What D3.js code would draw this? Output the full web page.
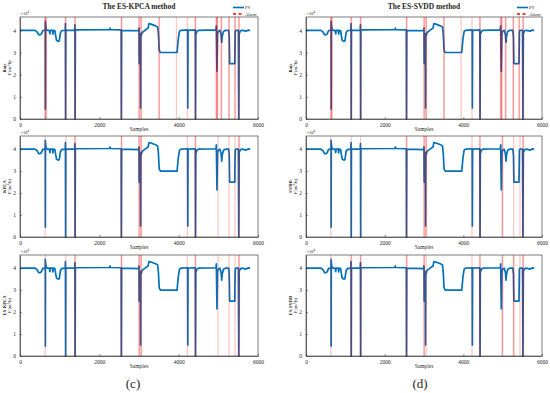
<!DOCTYPE html>
<html>
<head>
<meta charset="utf-8">
<style>
body { margin: 0; background: #fff; }
text { font-family: "Liberation Serif", "Times New Roman", serif; fill: #262626; }
</style>
<script src="https://cdn.jsdelivr.net/npm/d3@7/dist/d3.min.js"></script>
</head>
<body>
<script>
// PV flow rate (key points)
var pvSamples = [0, 380, 430, 470, 500, 540, 575, 620, 635, 638, 640, 643, 648, 660, 690,
  740, 755, 765, 820, 830, 840, 880, 900, 920, 960, 990, 1000, 1020, 1060,
  1140, 1145, 1150, 1155, 1380, 1385, 1390, 1395, 2260, 2270, 2280, 2550, 2555, 2562,
  2990, 3000, 3005, 3010, 3035, 3040, 3045, 3080, 3150, 3230, 3250, 3300, 3420, 3470,
  3490, 3510, 3540, 3960, 3990, 4020, 4060, 4225, 4230, 4236, 4420, 4425, 4432, 4460,
  4500, 4940, 4950, 4965, 4980, 5000, 5040, 5070, 5085, 5100, 5130, 5180, 5260, 5275,
  5285, 5415, 5425, 5440, 5505, 5515, 5525, 5560, 5600, 5700, 5750, 5800];
var pvValues = [40000, 40000, 39300, 38000, 37900, 38400, 39900, 40000, 40000, 44000, 4500, 43000, 42000, 40500, 40000,
  40000, 38400, 40000, 40000, 38300, 40000, 39800, 37500, 35500, 35000, 35200, 36500, 39000, 39900,
  40000, 43000, 0, 40000, 40000, 42500, 0, 40200, 40300, 41000, 40300, 40200, 0, 40000,
  39800, 41000, 25000, 38000, 38500, 5000, 37000, 39000, 40000, 41000, 43000, 42800, 42000, 41500,
  38000, 31000, 30000, 30000, 36000, 39500, 40000, 40200, 5000, 40000, 40200, 0, 38000, 39500,
  40000, 40200, 42000, 21500, 38500, 39500, 40000, 38000, 34500, 37500, 39500, 40000, 40000, 37000,
  25000, 25000, 39500, 40000, 40000, 0, 38500, 39800, 40000, 39600, 40100, 40000];

var xTicks = [0, 2000, 4000, 6000];
var yTicks = [0, 10000, 20000, 30000, 40000];

var methodTitles = ["The ES-KPCA method", "The ES-SVDD method"];
var rowNames = [["Rate", "KPCA", "ES-KPCA"], ["Rate", "SVDD", "ES-SVDD"]];
var panelLetters = ["(c)", "(d)"];

// alarm samples: strong (red) and faint (pink)
var rateAlarms = [646, 1150, 1388, 2559, 3004, 3055, 3508, 4422, 4951, 4976, 5077, 5270, 5421, 5521];
var rateAlarmsFaint = [625, 665, 3944, 4220];
var kpcaAlarms = [1388, 2559, 3004, 3055, 4422, 5521];
var kpcaAlarmsFaint = [630, 1158, 4220, 4993, 5270, 5421];
var eskpcaAlarms = [1388, 2559, 3004, 3055, 4422, 5521];
var eskpcaAlarmsFaint = [636, 1158, 4220, 4993, 5270, 5421];
var svddAlarms = [2559, 3004, 3055, 4422, 4993, 5521];
var svddAlarmsFaint = [630, 1150, 1388, 4220, 5280, 5440];
var essvddAlarms = [1150, 1388, 2559, 3004, 4422, 4993, 5280, 5521];
var essvddAlarmsFaint = [630, 3055, 4220, 5440];

var alarmSets = [
  [[rateAlarms, rateAlarmsFaint], [kpcaAlarms, kpcaAlarmsFaint], [eskpcaAlarms, eskpcaAlarmsFaint]],
  [[rateAlarms, rateAlarmsFaint], [svddAlarms, svddAlarmsFaint], [essvddAlarms, essvddAlarmsFaint]]
];

var cols = [{x0: 20, x1: 258, mid: 139, letter: 133}, {x0: 306, x1: 542, mid: 424, letter: 420}];
var rows = [{y0: 17, y1: 119}, {y0: 136, y1: 237}, {y0: 255, y1: 356}];

var pv = pvSamples.map(function(s, i) { return [s, pvValues[i]]; });

var svg = d3.select("body").append("svg")
  .attr("width", 550)
  .attr("height", 393);

svg.append("rect").attr("width", 550).attr("height", 393).attr("fill", "#fff");

cols.forEach(function(c, ci) {
  // title
  svg.append("text")
    .attr("x", c.mid).attr("y", 9)
    .attr("text-anchor", "middle")
    .attr("font-size", "7.5px")
    .attr("font-weight", "bold")
    .attr("fill", "#000")
    .text(methodTitles[ci]);

  // legend
  var lx = c.x1 - 25;
  svg.append("line").attr("x1", lx).attr("x2", lx + 11).attr("y1", 7.5).attr("y2", 7.5)
    .attr("stroke", "#0072BD").attr("stroke-width", 1.6);
  svg.append("text").attr("x", lx + 12).attr("y", 9).attr("font-size", "4.5px").text("PV");
  svg.append("line").attr("x1", lx).attr("x2", lx + 11).attr("y1", 14).attr("y2", 14)
    .attr("stroke", "#ff0000").attr("stroke-width", 1.6).attr("stroke-dasharray", "3,2.5");
  svg.append("text").attr("x", lx + 12).attr("y", 15.5).attr("font-size", "4.5px").text("Alarm");

  rows.forEach(function(r, ri) {
    var x = d3.scaleLinear().domain([0, 6000]).range([c.x0, c.x1]);
    var y = d3.scaleLinear().domain([0, 46000]).range([r.y1, r.y0]);
    var g = svg.append("g");

    var line = d3.line()
      .x(function(d) { return x(d[0]); })
      .y(function(d) { return y(d[1]); });

    g.append("path")
      .datum(pv)
      .attr("d", line)
      .attr("fill", "none")
      .attr("stroke", "#0072BD")
      .attr("stroke-width", 1.7)
      .attr("stroke-linejoin", "round");

    var strong = alarmSets[ci][ri][0], faint = alarmSets[ci][ri][1];

    g.selectAll("line.faint")
      .data(faint)
      .enter()
      .append("line")
      .attr("class", "faint")
      .attr("x1", function(d) { return x(d); })
      .attr("x2", function(d) { return x(d); })
      .attr("y1", r.y0).attr("y2", r.y1)
      .attr("stroke", "#ff0000")
      .attr("stroke-opacity", 0.22)
      .attr("stroke-width", 1.3);

    g.selectAll("line.halo")
      .data(strong)
      .enter()
      .append("line")
      .attr("class", "halo")
      .attr("x1", function(d) { return x(d); })
      .attr("x2", function(d) { return x(d); })
      .attr("y1", r.y0).attr("y2", r.y1)
      .attr("stroke", "#ff0000")
      .attr("stroke-opacity", 0.16)
      .attr("stroke-width", 2.2);

    g.selectAll("line.alarm")
      .data(strong)
      .enter()
      .append("line")
      .attr("class", "alarm")
      .attr("x1", function(d) { return x(d); })
      .attr("x2", function(d) { return x(d); })
      .attr("y1", r.y0).attr("y2", r.y1)
      .attr("stroke", "#e00000")
      .attr("stroke-opacity", 0.55)
      .attr("stroke-width", 0.6);

    // box
    g.append("rect")
      .attr("x", c.x0).attr("y", r.y0)
      .attr("width", c.x1 - c.x0).attr("height", r.y1 - r.y0)
      .attr("fill", "none").attr("stroke", "#262626").attr("stroke-width", 0.6);

    var xa = g.append("g")
      .attr("transform", "translate(0," + r.y1 + ")")
      .call(d3.axisBottom(x).tickValues(xTicks).tickSizeInner(-2).tickSizeOuter(0).tickPadding(4)
        .tickFormat(d3.format("d")));
    var ya = g.append("g")
      .attr("transform", "translate(" + c.x0 + ",0)")
      .call(d3.axisLeft(y).tickValues(yTicks).tickSizeInner(-2).tickSizeOuter(0).tickPadding(4)
        .tickFormat(function(d) { return d / 10000; }));
    [xa, ya].forEach(function(a) {
      a.select(".domain").attr("stroke", "#262626").attr("stroke-width", 0.6);
      a.selectAll(".tick line").attr("stroke", "#262626").attr("stroke-width", 0.5);
      a.selectAll(".tick text")
        .attr("font-family", "Liberation Serif, serif")
        .attr("font-size", "5.5px")
        .attr("fill", "#262626");
    });

    // x10^4 marker
    var m = g.append("text").attr("x", c.x0 + 0.5).attr("y", r.y0 - 2).attr("font-size", "4.5px");
    m.append("tspan").text("\u00d710");
    m.append("tspan").attr("dy", -2).attr("font-size", "3px").text("4");

    g.append("text")
      .attr("x", (c.x0 + c.x1) / 2).attr("y", r.y1 + 12)
      .attr("text-anchor", "middle")
      .attr("font-size", "5.5px")
      .text("Samples");

    // y label, two lines
    var ym = (r.y0 + r.y1) / 2;
    var yl = g.append("text")
      .attr("transform", "translate(" + (c.x0 - 14) + "," + ym + ") rotate(-90)")
      .attr("text-anchor", "middle")
      .attr("font-size", "4.5px");
    yl.append("tspan").attr("x", 0).attr("dy", 0).attr("font-weight", "bold").text(rowNames[ci][ri]);
    var t2 = yl.append("tspan").attr("x", 0).attr("dy", 4.5);
    t2.text("F'(m");
    t2.append("tspan").attr("dy", -1.3).attr("font-size", "3px").text("3");
    t2.append("tspan").attr("dy", 1.3).text("/h)");
  });

  svg.append("text")
    .attr("x", c.letter).attr("y", 388)
    .attr("text-anchor", "middle")
    .attr("font-size", "13px")
    .attr("fill", "#000")
    .text(panelLetters[ci]);
});
</script>
</body>
</html>
